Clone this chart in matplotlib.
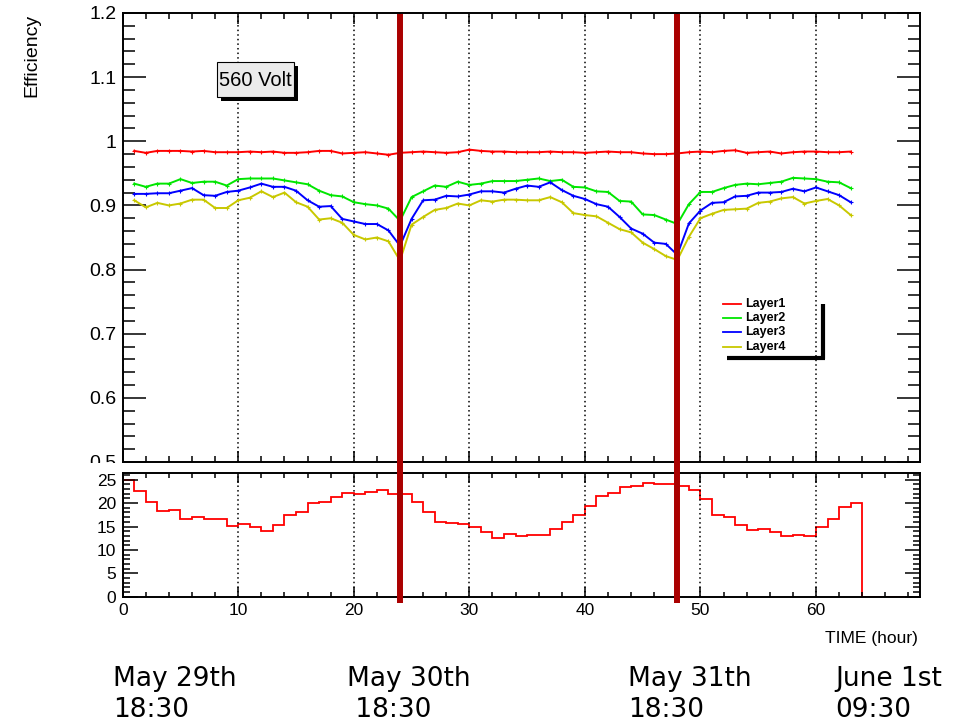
import numpy as np
import matplotlib.pyplot as plt
from matplotlib import transforms
from matplotlib.lines import Line2D
from matplotlib.patches import Rectangle
from matplotlib.ticker import MultipleLocator

# hourly efficiency per layer (560 V run)
hours = np.arange(1, 64)

layer1 = [0.985, 0.982, 0.985, 0.985, 0.985, 0.984, 0.985, 0.983, 0.983, 0.983,
          0.984, 0.983, 0.984, 0.982, 0.982, 0.983, 0.985, 0.985, 0.981, 0.982,
          0.983, 0.981, 0.979, 0.982, 0.983, 0.984, 0.983, 0.982, 0.983, 0.987,
          0.985, 0.984, 0.984, 0.983, 0.983, 0.983, 0.984, 0.983, 0.983, 0.982,
          0.983, 0.984, 0.983, 0.983, 0.981, 0.980, 0.980, 0.981, 0.983, 0.984,
          0.983, 0.985, 0.986, 0.982, 0.983, 0.984, 0.981, 0.983, 0.984, 0.984,
          0.983, 0.983, 0.984]

layer2 = [0.934, 0.929, 0.934, 0.934, 0.941, 0.935, 0.937, 0.937, 0.931, 0.941,
          0.942, 0.942, 0.942, 0.939, 0.936, 0.933, 0.923, 0.916, 0.914, 0.905,
          0.902, 0.900, 0.895, 0.876, 0.913, 0.922, 0.931, 0.929, 0.937, 0.932,
          0.934, 0.938, 0.938, 0.938, 0.940, 0.942, 0.938, 0.940, 0.929, 0.928,
          0.922, 0.921, 0.907, 0.906, 0.886, 0.885, 0.878, 0.871, 0.902, 0.921,
          0.921, 0.927, 0.932, 0.934, 0.933, 0.935, 0.937, 0.943, 0.942, 0.941,
          0.937, 0.936, 0.927]

layer3 = [0.918, 0.918, 0.919, 0.919, 0.923, 0.927, 0.916, 0.915, 0.921, 0.923,
          0.928, 0.934, 0.929, 0.929, 0.923, 0.908, 0.898, 0.899, 0.879, 0.875,
          0.871, 0.871, 0.861, 0.837, 0.879, 0.908, 0.909, 0.915, 0.914, 0.917,
          0.922, 0.922, 0.920, 0.926, 0.931, 0.929, 0.936, 0.924, 0.915, 0.910,
          0.902, 0.898, 0.882, 0.864, 0.856, 0.842, 0.840, 0.823, 0.872, 0.892,
          0.904, 0.905, 0.914, 0.915, 0.920, 0.920, 0.921, 0.926, 0.922, 0.928,
          0.922, 0.916, 0.905]

layer4 = [0.908, 0.897, 0.904, 0.900, 0.903, 0.909, 0.909, 0.896, 0.896, 0.908,
          0.912, 0.922, 0.913, 0.920, 0.905, 0.898, 0.878, 0.880, 0.873, 0.854,
          0.847, 0.850, 0.844, 0.814, 0.870, 0.882, 0.893, 0.896, 0.903, 0.900,
          0.908, 0.906, 0.909, 0.909, 0.908, 0.908, 0.913, 0.905, 0.888, 0.885,
          0.883, 0.873, 0.863, 0.858, 0.842, 0.832, 0.821, 0.815, 0.851, 0.880,
          0.887, 0.893, 0.894, 0.895, 0.904, 0.906, 0.911, 0.913, 0.903, 0.907,
          0.910, 0.900, 0.885]

layer_names = ['Layer1', 'Layer2', 'Layer3', 'Layer4']
layer_colors = ['#ff0000', '#00e600', '#0000ff', '#c8c800']

# rate per 1-hour bin
rate_edges = np.arange(0, 69)
rate = [25.0, 22.6, 20.2, 18.4, 18.6, 16.6, 17.0, 16.6, 16.7, 15.1,
        15.6, 14.8, 14.1, 15.4, 17.4, 18.0, 20.1, 20.3, 21.3, 22.1,
        21.9, 22.4, 22.7, 22.0, 21.9, 20.2, 18.0, 16.0, 15.8, 15.6,
        15.0, 13.9, 12.6, 13.4, 12.9, 13.2, 13.2, 14.5, 15.9, 17.5,
        19.3, 21.5, 22.1, 23.5, 23.6, 24.4, 24.1, 24.1, 23.7, 22.8,
        20.9, 17.5, 17.0, 15.4, 14.2, 14.4, 13.9, 13.0, 13.1, 12.9,
        14.8, 16.6, 19.1, 20.0, 0, 0, 0, 0]

# day boundaries and their calendar labels
day_marks = [24, 48]
date_labels = ['May 29th', 'May 30th', 'May 31th', 'June 1st']
time_labels = ['18:30', ' 18:30', '18:30', '09:30']

W, H = 955, 722


def fx(px):
    return px / W


def fy(py):
    return 1 - py / H


plt.rcParams['font.family'] = ['Liberation Sans', 'DejaVu Sans']

fig = plt.figure(figsize=(W / 100, H / 100), dpi=100)
ax_top = fig.add_axes([fx(122.7), fy(462), fx(920) - fx(122.7), fy(13) - fy(462)])
ax_bot = fig.add_axes([fx(122.7), fy(596.7), fx(920) - fx(122.7), fy(472.7) - fy(596.7)])

dotted = (0, (1, 2))

# efficiency curves
for vals, color in zip([layer1, layer2, layer3, layer4], layer_colors):
    ax_top.plot(hours, vals, color=color, lw=1.4, marker='+', ms=3, mew=0.8)

ax_top.set_xlim(0, 69)
ax_top.set_ylim(0.5, 1.2)
ax_top.xaxis.set_major_locator(MultipleLocator(10))
ax_top.xaxis.set_minor_locator(MultipleLocator(2))
ax_top.yaxis.set_major_locator(MultipleLocator(0.1))
ax_top.yaxis.set_minor_locator(MultipleLocator(0.02))
ax_top.yaxis.set_major_formatter(plt.FuncFormatter(lambda v, p: f'{v:g}'))
ax_top.tick_params(which='both', direction='in', top=True, right=True,
                   labelbottom=False, width=1.1, labelsize=14, pad=4.5)
ax_top.tick_params(axis='y', which='major', length=16.5)
ax_top.tick_params(axis='y', which='minor', length=8.5)
ax_top.tick_params(axis='x', which='major', length=8)
ax_top.tick_params(axis='x', which='minor', length=4.3)
ax_top.grid(axis='x', which='major', ls=dotted, color='black', lw=1.1)

# rate histogram
ax_bot.stairs(rate, rate_edges, color='#ff0000', lw=1.3)
ax_bot.set_xlim(0, 69)
ax_bot.set_ylim(0, 26.5)
ax_bot.xaxis.set_major_locator(MultipleLocator(10))
ax_bot.xaxis.set_minor_locator(MultipleLocator(2))
ax_bot.yaxis.set_major_locator(MultipleLocator(5))
ax_bot.yaxis.set_minor_locator(MultipleLocator(1))
ax_bot.tick_params(which='both', direction='in', top=True, right=True,
                   width=1.1, labelsize=12.5, pad=4.5)
ax_bot.tick_params(axis='y', which='major', length=11)
ax_bot.tick_params(axis='y', which='minor', length=5)
ax_bot.tick_params(axis='x', which='major', length=7)
ax_bot.tick_params(axis='x', which='minor', length=3.6)
ax_bot.grid(axis='x', which='major', ls=dotted, color='black', lw=1.1)

for ax in (ax_top, ax_bot):
    for sp in ax.spines.values():
        sp.set_linewidth(1.4)

# the lower pad hides the bottom of the upper one
fig.add_artist(Rectangle((0, fy(472)), fx(121), fy(462.5) - fy(472),
                         transform=fig.transFigure, fc='white', ec='none', zorder=1))

# day boundaries across both panels
blend = transforms.blended_transform_factory(ax_top.transData, fig.transFigure)
for d in day_marks:
    fig.add_artist(Line2D([d, d], [fy(14), fy(603)], transform=blend,
                          color='#aa0000', lw=4.3, solid_capstyle='butt', zorder=5))

# voltage tag with shadow
fig.add_artist(Rectangle((fx(221), fy(101)), fx(298) - fx(221), fy(66) - fy(101),
                         transform=fig.transFigure, fc='black', ec='none', zorder=2))
fig.add_artist(Rectangle((fx(217), fy(97)), fx(294) - fx(217), fy(62) - fy(97),
                         transform=fig.transFigure, fc='#ebebeb', ec='black', lw=0.8,
                         zorder=3))
fig.text(fx(255.5), fy(80), '560 Volt', fontsize=14.5, ha='center', va='center', zorder=4)

# legend
legend_rows = [304, 318, 332, 347]
for name, color, row in zip(layer_names, layer_colors, legend_rows):
    fig.add_artist(Line2D([fx(723), fx(741)], [fy(row), fy(row)], color=color, lw=1.3))
    fig.text(fx(745), fy(row), name, fontsize=9, weight='bold', va='center')
fig.add_artist(Line2D([fx(823), fx(823)], [fy(304), fy(359)], color='black', lw=3,
                      solid_capstyle='butt'))
fig.add_artist(Line2D([fx(727), fx(824.5)], [fy(357.5), fy(357.5)], color='black', lw=3,
                      solid_capstyle='butt'))

# axis titles
fig.text(fx(32), fy(14), 'Efficiency', rotation=90, fontsize=14, ha='center', va='top')
fig.text(fx(918), fy(638), 'TIME (hour)', fontsize=12.5, ha='right', va='center')

# calendar labels under the time axis
date_x = [113, 347, 628, 835]
for x, d, t in zip(date_x, date_labels, time_labels):
    fig.text(fx(x), fy(686), d, fontsize=19, family='DejaVu Sans', va='baseline')
    fig.text(fx(x), fy(717), t, fontsize=19, family='DejaVu Sans', va='baseline')

fig.savefig('out.png', dpi=100)
